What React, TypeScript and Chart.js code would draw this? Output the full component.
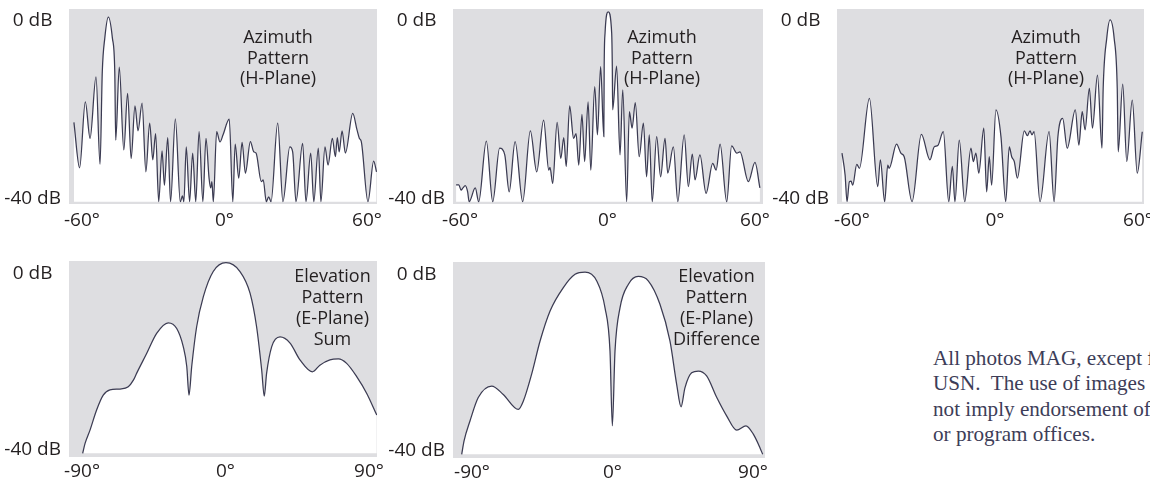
import React, { useEffect, useRef } from 'react';
import { Chart, registerables } from 'chart.js';

Chart.register(...registerables);

// ---------- Azimuth pattern, beam steered left ----------
const az1Deg = [
  -63.4, -61.0, -58.6, -56.6, -54.1, -52.4, -51.45, -50.4, -48.9, -47.2,
  -46.2, -45.8, -44.3, -42.4,
  -40.8, -39.3, -37.7, -36.4, -34.7, -33.1, -31.5, -30.2, -29.0, -27.7,
  -26.3, -25.3, -23.9, -22.7, -20.7, -18.6, -17.7, -17.1, -16.1, -14.7,
  -13.4, -12.1, -10.7, -9.1, -7.8, -6.5, -5.8, -5.3, -4.7, -3.3,
  -1.9, -0.6, 2.0, 3.5, 4.5, 6.0, 7.4, 8.8, 10.9, 12.3,
  13.3, 15.5, 16.3, 17.6, 18.6, 19.6, 22.4, 24.6, 27.5, 28.7,
  30.1, 32.9, 34.3, 36.3, 37.6, 39.5, 40.6, 42.3, 43.6, 45.4,
  46.7, 47.5, 48.3, 49.5, 50.9, 54.0, 55.8, 56.8, 57.6, 60.4,
  62.8, 64.0,
];
const az1Db = [
  -22.8, -33.0, -18.2, -26.4, -12.6, -32.2, -11.4, -3.9, 0.8, -3.9,
  -11.4, -26.8, -10.4, -29.0,
  -16.3, -30.9, -19.1, -24.7, -18.5, -33.9, -23.0, -31.2, -25.3, -40.6,
  -29.2, -36.9, -26.2, -40.6, -22.0, -40.6, -39.3, -40.6, -28.3, -40.6,
  -29.7, -40.6, -24.9, -40.6, -26.4, -35.3, -37.5, -36.1, -40.6, -24.9,
  -27.2, -25.6, -22.1, -40.6, -27.7, -35.3, -27.3, -34.2, -27.1, -29.4,
  -29.7, -36.1, -35.7, -40.6, -39.5, -40.6, -23.0, -40.6, -28.3, -29.4,
  -40.6, -27.5, -40.6, -29.7, -40.6, -28.6, -40.6, -28.3, -32.4, -26.4,
  -30.5, -26.2, -29.4, -24.7, -29.7, -20.8, -24.5, -26.4, -27.1, -40.6,
  -31.5, -33.9,
];

// ---------- Azimuth pattern, broadside beam ----------
const az2Deg = [
  -61.6, -60.5, -59.6, -58.8, -57.9, -56.9, -56.3, -53.8, -52.4, -49.3,
  -46.7, -43.9, -41.8, -40.0, -37.6, -34.5, -31.4, -28.8, -26.0, -23.9,
  -23.4, -22.3, -20.5, -19.0, -17.8, -16.8, -15.4, -13.8, -12.8, -11.7,
  -10.4, -9.3, -7.9, -6.8, -5.2, -4.1, -2.8, -1.5, -1.35, -1.0,
  0.3, 1.7, 1.95, 2.1,
  3.7, 5.1, 6.2, 7.8, 8.9, 10.0, 11.3, 12.9, 14.6, 15.9,
  17.0, 18.2, 20.0, 21.6, 23.4, 24.5, 26.8, 28.6, 31.2, 32.9,
  34.5, 35.6, 37.6, 40.1, 42.8, 44.2, 45.8, 48.5, 50.5, 52.6,
  53.9, 57.3, 60.0, 62.0,
];
const az2Db = [
  -36.8, -36.8, -38.0, -37.5, -37.0, -38.4, -40.6, -37.5, -40.6, -27.0,
  -40.6, -28.6, -30.1, -38.4, -27.1, -40.6, -24.7, -33.9, -22.3, -33.5,
  -32.9, -36.5, -22.8, -30.9, -26.2, -32.7, -19.1, -26.4, -25.3, -32.4,
  -21.0, -31.6, -18.2, -33.5, -14.8, -25.6, -10.3, -26.0, -10.3, -2.8,
  2.0, -2.8, -10.3, -20.0,
  -10.2, -30.1, -15.5, -40.6, -20.4, -24.1, -18.4, -30.5, -23.0, -35.0,
  -25.6, -40.6, -26.0, -35.0, -26.4, -34.2, -28.3, -40.6, -25.6, -37.2,
  -29.9, -35.7, -30.1, -38.7, -32.0, -33.5, -27.7, -40.6, -28.1, -29.7,
  -29.4, -36.1, -31.8, -37.5,
];

// ---------- Azimuth pattern, beam steered right ----------
const az3Deg = [
  -64.2, -62.9, -62.1, -61.1, -60.4, -59.7, -58.0, -56.9, -52.7, -49.2,
  -48.1, -46.3, -45.0, -44.4, -41.3, -39.5, -38.1, -34.8, -30.9, -27.3,
  -25.5, -24.0, -21.7, -19.4, -17.9, -16.8, -15.0, -12.7, -10.1, -9.1,
  -8.0, -6.8, -4.7, -3.5, -2.4, -1.4, 0.4, 2.5, 4.5, 6.0,
  7.0, 8.1, 9.4, 12.3, 13.6, 14.7, 15.5, 16.4, 18.9, 22.7,
  24.8, 26.4, 28.4, 30.3, 33.7, 35.2, 36.6, 37.8, 39.6, 40.9,
  43.0, 44.9, 45.4, 46.9, 48.3, 50.0, 51.3, 51.7, 53.6, 55.3,
  57.6, 59.7, 61.8,
];
const az3Db = [
  -29.7, -34.6, -40.6, -36.1, -36.0, -36.9, -32.2, -33.1, -17.4, -37.2,
  -31.2, -40.6, -32.4, -33.1, -27.7, -29.7, -30.5, -40.6, -25.5, -31.2,
  -28.3, -28.0, -24.9, -40.6, -32.7, -40.6, -26.8, -40.6, -28.6, -31.6,
  -29.7, -34.2, -24.1, -38.4, -30.5, -36.9, -20.0, -26.0, -40.6, -28.3,
  -30.5, -31.6, -35.3, -24.7, -25.8, -24.7, -25.6, -24.9, -40.6, -24.9,
  -40.6, -26.0, -21.9, -28.6, -20.0, -27.9, -20.4, -24.5, -15.2, -24.1,
  -12.2, -28.6, -15.2, -3.9, 0.2, -3.9, -15.2, -29.4, -14.2, -31.6,
  -17.8, -34.2, -24.9,
];

// ---------- Elevation pattern, sum ----------
const elSumDeg = [
  -89.6, -88.1, -85.0, -80.8, -76.7, -72.5, -66.2, -61.0, -57.8, -55.7,
  -49.4, -43.2, -35.9, -30.6, -26.5, -24.3, -22.9, -21.2, -18.1, -13.9,
  -7.7, 0.3, 9.1, 15.4, 19.5, 22.7, 24.3, 25.8, 29.0, 34.2,
  40.5, 46.7, 54.5, 59.2, 65.5, 70.8, 76.0, 82.3, 88.6, 94.9,
];
const elSumDb = [
  -40.75, -38.5, -35.5, -30.9, -27.6, -26.4, -26.2, -25.7, -24.2, -22.6,
  -18.1, -13.6, -11.2, -12.5, -16.6, -21.1, -27.6, -21.1, -12.1, -5.3,
  0.4, 2.4, 0.4, -4.5, -12.1, -21.9, -27.8, -22.6, -16.6, -14.4,
  -15.8, -19.6, -22.3, -20.8, -19.6, -19.4, -20.4, -23.4, -27.2, -32.1,
];

// ---------- Elevation pattern, difference ----------
const elDiffDeg = [
  -96.6, -95.1, -91.3, -86.0, -77.4, -70.0, -60.3, -57.1, -51.8, -46.4,
  -40.0, -31.5, -24.0, -17.6, -10.1, -4.8, -1.6, -0.1, 1.6, 4.8,
  10.1, 16.5, 22.9, 30.4, 36.8, 41.1, 43.9, 46.4, 50.7, 55.0,
  60.3, 66.8, 73.2, 79.6, 85.5, 90.2, 94.5, 96.2,
];
const elDiffDb = [
  -40.75, -37.7, -33.2, -27.9, -25.3, -27.2, -30.6, -28.7, -22.6, -15.1,
  -8.3, -3.0, 0.0, 0.5, -1.5, -7.6, -17.4, -34.3, -17.4, -7.6,
  -2.3, -0.5, -1.5, -6.8, -15.1, -24.9, -30.0, -25.7, -22.3, -21.9,
  -23.0, -27.9, -32.1, -35.3, -34.3, -36.2, -39.3, -40.75,
];

// ---------- Tick values & texts ----------
const azTicks = [-60, 0, 60];
const elTicks = [-90, 0, 90];
const dbTicks = [-40, 0];

const azNote = ['Azimuth', 'Pattern', '(H-Plane)'];
const sumNote = ['Elevation', 'Pattern', '(E-Plane)', 'Sum'];
const diffNote = ['Elevation', 'Pattern', '(E-Plane)', 'Difference'];

const footnote = [
  'All photos MAG, except from',
  'USN.  The use of images does',
  'not imply endorsement of',
  'or program offices.',
];

const GREY = '#dedee1';
const INK = '#231f20';
const CURVE = '#3b3b52';
const FONT = "'Open Sans', sans-serif";

type Spec = {
  key: string;
  left: number; top: number; w: number; h: number;
  padTop: number; padRight: number; yW: number; xH: number;
  xMin: number; xMax: number; yMin: number; yMax: number; floor: number;
  xTicks: number[]; tickPad: number;
  deg: number[]; db: number[];
  note: string[]; noteDx: number; noteDy: number; noteGap: number;
};

const panels: Spec[] = [
  {
    key: 'az1', left: 0, top: 0, w: 390, h: 240, padTop: 9, padRight: 13, yW: 69, xH: 36,
    xMin: -65.47, xMax: 64.21, yMin: -41.11, yMax: 2.62, floor: -40.6, xTicks: azTicks, tickPad: 5,
    deg: az1Deg, db: az1Db, note: azNote, noteDx: 209, noteDy: 34.3, noteGap: 20.5,
  },
  {
    key: 'az2', left: 384, top: 0, w: 392, h: 240, padTop: 9, padRight: 13, yW: 69, xH: 36,
    xMin: -62.86, xMax: 63.26, yMin: -41.11, yMax: 2.62, floor: -40.6, xTicks: azTicks, tickPad: 5,
    deg: az2Deg, db: az2Db, note: azNote, noteDx: 209, noteDy: 34.3, noteGap: 20.5,
  },
  {
    key: 'az3', left: 768, top: 0, w: 382, h: 240, padTop: 9, padRight: 6, yW: 69, xH: 36,
    xMin: -66.3, xMax: 62.53, yMin: -41.11, yMax: 2.62, floor: -40.6, xTicks: azTicks, tickPad: 5,
    deg: az3Deg, db: az3Db, note: azNote, noteDx: 209, noteDy: 34.3, noteGap: 20.5,
  },
  {
    key: 'sum', left: 0, top: 246, w: 390, h: 245, padTop: 15, padRight: 13, yW: 69, xH: 34,
    xMin: -98.18, xMax: 95.04, yMin: -41.59, yMax: 2.78, floor: -40.75, xTicks: elTicks, tickPad: 3,
    deg: elSumDeg, db: elSumDb, note: sumNote, noteDx: 263.5, noteDy: 20.7, noteGap: 21.2,
  },
  {
    key: 'diff', left: 384, top: 246, w: 392, h: 245, padTop: 16, padRight: 11, yW: 69, xH: 33,
    xMin: -102.18, xMax: 97.69, yMin: -41.59, yMax: 2.78, floor: -40.75, xTicks: elTicks, tickPad: 3,
    deg: elDiffDeg, db: elDiffDb, note: diffNote, noteDx: 263.5, noteDy: 19.7, noteGap: 21.2,
  },
];

const panelPlugin = {
  id: 'panelDeco',
  beforeDraw(chart: any) {
    const { ctx, chartArea: a } = chart;
    ctx.save();
    ctx.fillStyle = GREY;
    ctx.fillRect(a.left, a.top, a.right - a.left, a.bottom - a.top);
    ctx.restore();
  },
  afterDatasetsDraw(chart: any, _args: any, opts: any) {
    const { ctx, chartArea: a } = chart;
    ctx.save();
    ctx.font = `18px ${FONT}`;
    ctx.fillStyle = INK;
    ctx.textAlign = 'center';
    ctx.textBaseline = 'alphabetic';
    (opts.lines || []).forEach((t: string, i: number) => {
      ctx.fillText(t, a.left + opts.dx, a.top + opts.dy + i * opts.gap);
    });
    ctx.restore();
  },
};

function Panel({ spec }: { spec: Spec }) {
  const ref = useRef<HTMLCanvasElement>(null);
  useEffect(() => {
    if (!ref.current) return;
    const s = spec;
    const chart = new Chart(ref.current, {
      type: 'line',
      data: {
        datasets: [
          {
            data: s.deg.map((x, i) => ({ x, y: s.db[i] })),
            borderColor: CURVE,
            borderWidth: 1.25,
            pointRadius: 0,
            backgroundColor: '#ffffff',
            fill: { value: s.floor },
            cubicInterpolationMode: 'monotone',
          } as any,
        ],
      },
      options: {
        animation: false,
        responsive: false,
        maintainAspectRatio: false,
        devicePixelRatio: 1,
        events: [],
        layout: { padding: { top: s.padTop, right: s.padRight, bottom: 0, left: 0 } },
        plugins: {
          legend: { display: false },
          tooltip: { enabled: false },
          panelDeco: { lines: s.note, dx: s.noteDx, dy: s.noteDy, gap: s.noteGap },
        } as any,
        scales: {
          x: {
            type: 'linear',
            min: s.xMin,
            max: s.xMax,
            grid: { display: false, drawTicks: false, tickLength: 0 },
            border: { display: false },
            ticks: {
              padding: s.tickPad,
              color: INK,
              font: { family: FONT, size: 19 },
              autoSkip: false,
              maxRotation: 0,
              minRotation: 0,
              callback: (v: any) => `${v}°`,
            },
            afterBuildTicks: (sc: any) => {
              sc.ticks = s.xTicks.map((value) => ({ value }));
            },
            afterFit: (sc: any) => {
              sc.height = s.xH;
              sc.paddingLeft = 0;
              sc.paddingRight = 0;
            },
          },
          y: {
            type: 'linear',
            min: s.yMin,
            max: s.yMax,
            grid: { display: false, drawTicks: false, tickLength: 0 },
            border: { display: false },
            ticks: {
              padding: 8,
              crossAlign: 'center',
              color: INK,
              font: { family: FONT, size: 19 },
              autoSkip: false,
              callback: (v: any) => `${v} dB`,
            },
            afterBuildTicks: (sc: any) => {
              sc.ticks = dbTicks.map((value) => ({ value }));
            },
            afterFit: (sc: any) => {
              sc.width = s.yW;
              sc.paddingTop = 0;
              sc.paddingBottom = 0;
            },
          },
        } as any,
      },
      plugins: [panelPlugin as any],
    });
    return () => chart.destroy();
  }, [spec]);
  return (
    <canvas
      ref={ref}
      width={spec.w}
      height={spec.h}
      style={{ position: 'absolute', left: spec.left, top: spec.top, width: spec.w, height: spec.h, display: 'block' }}
    />
  );
}

export default function App() {
  return (
    <div
      style={{
        position: 'absolute',
        left: 0,
        top: 0,
        width: 1150,
        height: 491,
        overflow: 'hidden',
        background: '#ffffff',
      }}
    >
      {panels.map((p) => (
        <Panel key={p.key} spec={p} />
      ))}
      <div
        style={{
          position: 'absolute',
          left: 933,
          top: 346,
          fontFamily: "'Liberation Serif', serif",
          fontSize: 21.15,
          lineHeight: '25.4px',
          color: '#3d3d58',
          whiteSpace: 'pre',
        }}
      >
        {footnote.map((l, i) => (
          <div key={i}>{l}</div>
        ))}
      </div>
    </div>
  );
}
